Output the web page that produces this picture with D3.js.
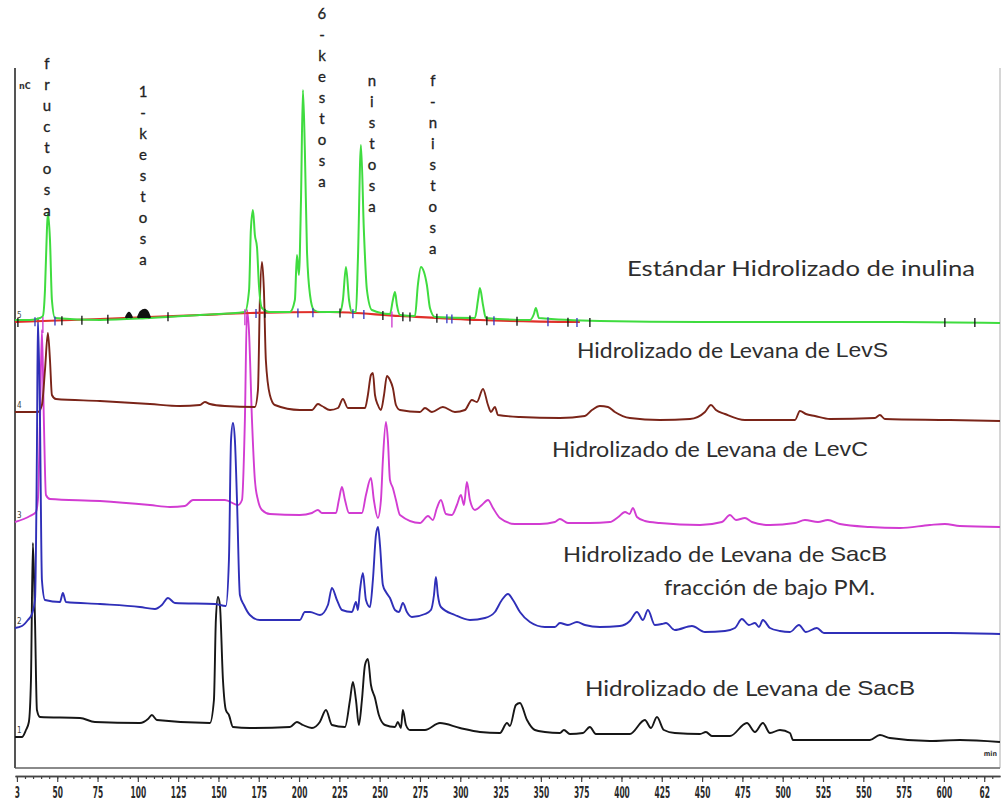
<!DOCTYPE html>
<html>
<head>
<meta charset="utf-8">
<script src="https://cdn.jsdelivr.net/npm/d3@7"></script>
<style>
  html, body { margin: 0; background: #fff; }
  svg { display: block; }
</style>
</head>
<body>
<svg id="chart" width="1002" height="803"></svg>
<script>
// Retention time (axis units) and detector signal for each chromatogram, signal relative to its own baseline.
const estandar = [[23.8,2],[33.1,2],[39.3,4],[41.1,6],[42.4,32],[43.6,92],[44.2,109],[45.5,82],[46.7,22],[48.6,4],
  [76.5,2],[107.5,4],[138.5,7],[166.4,10],[169.0,32],[170.1,92],[171.4,112],[172.6,87],[173.9,75],[175.1,37],[177.0,14],
  [181.9,10],[194.3,10],[197.4,22],[198.7,67],[199.9,47],[201.2,122],[202.4,232],[203.6,172],[204.9,72],[206.8,27],[209.2,12],
  [213.0,10],[225.4,10],[227.2,22],[229.1,55],[231.0,22],[232.8,10],[235.3,10],[236.5,62],[238.4,177],[240.2,92],[242.1,32],
  [245.2,12],[256.4,8],[258.2,22],[259.5,30],[260.7,17],[262.6,7],[271.9,6],[273.7,37],[275.6,55],[277.5,50],[279.3,37],
  [281.2,14],[284.3,5],[309.1,4],[311.0,22],[312.2,34],[314.1,17],[315.9,4],[343.2,2],[345.7,8],[346.9,14],[348.8,4],
  [386.6,1],[448.7,0],[510.7,0],[572.7,0],[634.8,-1]];

const deriva = [[23.8,0],[76.5,3],[138.5,7],[169.5,9],[219.2,10],[262.6,6],[312.2,2],[374.2,0]];

const levS = [[23.8,0],[38.0,0],[40.5,7],[42.4,42],[44.2,79],[45.5,52],[46.7,17],[49.2,13],[76.5,11],[107.5,8],[126.1,6],
  [138.5,7],[141.6,10],[144.7,8],[154.0,6],[172.6,5],[174.5,22],[175.7,112],[177.0,150],[178.2,122],[179.4,52],[181.9,17],
  [185.0,7],[200.5,2],[208.0,2],[211.7,8],[214.2,6],[219.2,2],[224.1,4],[227.2,13],[230.3,4],[240.9,4],[242.7,17],[244.6,37],
  [245.8,39],[247.1,17],[248.9,7],[250.8,2],[252.7,17],[254.5,36],[256.4,32],[258.2,24],[260.1,7],[262.6,2],[275.0,0],
  [278.1,4],[282.4,0],[289.2,5],[296.7,0],[302.9,2],[307.2,12],[310.3,10],[314.1,23],[317.2,7],[319.0,0],[321.5,5],
  [323.4,-3],[337.0,-5],[361.8,-6],[377.3,-4],[381.7,2],[386.6,6],[391.6,5],[395.9,0],[405.2,-6],[423.8,-8],[442.5,-7],
  [451.8,0],[455.5,7],[458.6,2],[464.2,-2],[476.6,-8],[507.6,-8],[510.7,1],[514.4,-2],[520.0,-4],[529.3,-7],[557.2,-6],
  [560.3,-3],[563.4,-7],[603.7,-8],[634.8,-9]];

const levC = [[23.8,0],[33.1,6],[36.8,10],[38.0,22],[39.3,102],[40.5,192],[41.7,102],[43.0,27],[45.5,23],[76.5,21],
  [107.5,17],[119.9,15],[129.2,16],[134.2,22],[141.6,22],[154.0,22],[162.1,17],[164.6,22],[166.4,102],[167.7,212],
  [168.9,192],[170.8,102],[172.6,42],[174.5,22],[177.0,12],[181.9,8],[200.5,7],[208.0,9],[211.7,12],[214.2,9],[222.9,9],
  [224.7,22],[226.6,35],[228.5,22],[231.0,9],[239.0,9],[241.5,27],[244.6,44],[246.4,22],[248.9,4],[250.8,22],[252.0,62],
  [253.9,100],[255.1,82],[256.4,42],[258.2,34],[260.1,22],[262.6,7],[275.0,-1],[280.0,6],[283.0,2],[285.5,14],[288.0,22],
  [291.1,8],[294.8,7],[297.9,17],[300.4,27],[302.3,17],[304.1,40],[306.0,22],[309.1,12],[313.4,17],[317.2,22],[320.3,14],
  [324.6,4],[333.9,-2],[349.4,-2],[358.7,0],[361.8,3],[366.8,-1],[380.4,-1],[392.8,0],[398.0,5],[402.2,10],[405.0,8],
  [407.1,14],[409.6,5],[414.5,1],[423.8,-1],[448.7,-3],[462.3,0],[467.3,7],[471.0,2],[476.6,4],[480.9,0],[492.1,-3],
  [507.6,-1],[513.8,2],[521.9,0],[528.0,2],[535.5,-2],[554.1,-5],[572.7,-6],[591.3,-3],[600.6,-2],[609.9,-4],[634.8,-5]];

const sacBBajoPM = [[23.8,0],[28.1,2],[31.8,8],[34.3,14],[36.2,28],[37.4,178],[38.0,310],[39.3,208],[40.5,48],[42.4,28],
  [51.7,26],[53.5,35],[55.4,26],[76.5,24],[101.3,21],[110.6,19],[114.9,23],[118.7,30],[123.0,25],[147.8,24],[154.6,22],
  [156.5,68],[157.8,188],[159.0,205],[160.2,188],[161.5,128],[163.3,33],[165.8,23],[169.5,13],[175.7,8],[194.3,8],[200.5,8],
  [203.6,16],[206.8,16],[213.0,13],[217.9,23],[220.4,40],[223.5,28],[226.6,18],[232.8,16],[235.3,26],[236.5,18],[237.8,38],
  [239.6,55],[241.5,28],[244.0,21],[245.8,48],[247.7,93],[249.0,101],[250.2,83],[252.0,43],[253.9,36],[256.4,30],[259.5,18],
  [262.0,16],[264.4,25],[266.9,16],[270.0,11],[278.1,14],[281.8,18],[283.7,33],[284.9,51],[286.1,33],[288.0,21],[296.7,13],
  [306.0,8],[315.3,10],[321.5,16],[325.8,28],[329.6,34],[332.7,28],[337.0,16],[343.2,6],[352.5,1],[358.7,1],[361.8,5],
  [366.8,3],[372.4,6],[377.3,3],[386.6,1],[399.0,2],[405.2,7],[409.6,16],[413.3,8],[416.4,18],[420.7,3],[425.1,4],[427.6,5],
  [433.1,-2],[443.7,2],[451.8,-4],[464.2,-3],[470.4,0],[474.7,9],[479.1,3],[482.8,5],[485.3,1],[487.7,8],[492.1,0],
  [498.3,-3],[504.5,-4],[510.1,3],[514.4,-4],[521.2,0],[525.6,-5],[572.7,-5],[603.7,-5],[634.8,-6]];

const sacB = [[23.8,0],[28.1,0],[30.6,7],[32.4,15],[33.7,57],[34.9,194],[36.2,117],[37.4,27],[39.3,20],[64.1,19],[73.4,15],
  [101.3,14],[106.3,18],[108.7,22],[111.8,17],[144.7,14],[147.2,37],[148.4,117],[149.7,140],[150.9,132],[152.8,57],
  [154.6,27],[156.5,22],[159.0,10],[169.5,9],[194.3,10],[198.7,15],[202.4,12],[208.0,9],[212.9,15],[216.7,27],[220.4,12],
  [228.5,10],[231.6,37],[233.4,55],[235.3,37],[237.1,12],[239.0,37],[240.9,72],[242.7,78],[244.6,52],[247.1,39],[249.5,22],
  [253.3,12],[259.5,10],[261.3,15],[263.2,9],[264.4,27],[266.3,12],[268.8,7],[278.1,7],[287.4,14],[299.8,9],[312.2,5],
  [324.6,4],[329.0,14],[330.8,11],[334.5,32],[337.0,34],[341.4,17],[346.3,7],[352.5,5],[361.8,4],[364.3,7],[368.0,3],
  [376.1,4],[380.4,10],[384.1,3],[405.2,3],[414.5,17],[418.3,9],[422.0,20],[426.3,7],[433.1,4],[448.7,3],[452.4,5],
  [456.1,1],[467.3,1],[477.8,14],[482.8,5],[487.7,14],[492.1,4],[498.3,7],[504.5,4],[506.4,-3],[554.1,-3],[560.3,2],
  [566.5,-1],[591.3,-4],[609.9,-3],[634.8,-5]];

// Small integration deposits drawn on the standard trace near 1-kestosa.
const manchas = [[[92.6,4],[94.5,9],[96.3,4]], [[100.1,4],[101.9,10],[104.4,12],[106.3,9],[107.5,4]]];

// Peak integration marks on the standard trace: retention time and colour.
const marcaTiempos = [25.6,36.2,41.1,48.6,52.9,65.3,81.4,118.7,166.4,173.3,178.8,199.3,208.6,225.4,233.4,240.2,252.0,
  257.6,264.4,268.8,285.5,291.7,294.8,306.0,316.5,320.9,335.2,354.4,366.8,372.4,380.4,600.6,619.2];
const marcaColores = ["#111","#3535c0","#cc33cc","#3535c0","#111","#111","#111","#111","#cc33cc","#3535c0","#111",
  "#3535c0","#3535c0","#111","#3535c0","#3535c0","#111","#cc33cc","#111","#111","#111","#3535c0","#3535c0","#111","#111",
  "#3535c0","#111","#3535c0","#111","#3535c0","#111","#111","#111"];

// Peak names written vertically above the standard.
const picoNombres = ["fructosa", "1-kestosa", "6-kestosa", "nistosa", "f-nistosa"];
const picoTiempos = [43.6, 103.2, 214.2, 245.2, 283.0];

// Trace names.
const muestraTextos = ["Estándar Hidrolizado de inulina", "Hidrolizado de Levana de ", "Hidrolizado de Levana de  ",
  "Hidrolizado de Levana de  ", "Hidrolizado de Levana de  "];
const muestraEnzimas = ["", "LevS", "LevC", "SacB", "SacB"];
const muestraNotas = ["", "", "", "fracción de bajo PM.", ""];
const canales = ["5", "4", "3", "2", "1"];

// Axis ticks.
const ticksMayores = d3.range(25, 626, 25);
const ticksEtiquetas = ["3","50","75","100","125","150","175","200","225","250","275","300","325","350","375","400",
  "425","450","475","500","525","550","575","600","62"];

// ---------- layout ----------
const svg = d3.select("#chart");
const x = d3.scaleLinear().domain([23.8, 634.8]).range([15, 1000]);
const y = d3.scaleLinear().domain([0, 700]).range([768, 68]);

const offsets = [446, 356, 246, 140, 31];   // vertical stacking of the five chromatograms
const colores = ["#3fdc3f", "#7a2418", "#d23cd2", "#2f2fb8", "#161616"];
const series = [estandar, levS, levC, sacBBajoPM, sacB];

// frame
svg.append("line").attr("x1", 1000).attr("x2", 1000).attr("y1", 68).attr("y2", 768)
  .attr("stroke", "#c8c8c8").attr("stroke-width", 1.5);
svg.append("line").attr("x1", 15).attr("x2", 1000).attr("y1", 768).attr("y2", 768)
  .attr("stroke", "#8a8a8a").attr("stroke-width", 2);
svg.append("line").attr("x1", 15).attr("x2", 15).attr("y1", 68).attr("y2", 768)
  .attr("stroke", "#555").attr("stroke-width", 2);

svg.append("text").attr("x", 19).attr("y", 89).text("nC")
  .attr("font-family", "DejaVu Sans Condensed").attr("font-weight", "bold").attr("font-size", 9).attr("fill", "#333");
svg.append("text").attr("x", 997).attr("y", 756).attr("text-anchor", "end").text("min")
  .attr("font-family", "DejaVu Sans Condensed").attr("font-weight", "bold").attr("font-size", 7).attr("fill", "#333");

// bottom time ruler
const eje = svg.append("g").attr("transform", "translate(0,776)");
eje.call(d3.axisBottom(x).tickValues(d3.range(25, 631, 5)).tickSize(3).tickSizeOuter(0).tickFormat(""));
const ejeMayor = svg.append("g").attr("transform", "translate(0,776)")
  .call(d3.axisBottom(x).tickValues(ticksMayores).tickSize(6).tickSizeOuter(0).tickPadding(5)
    .tickFormat((d, i) => ticksEtiquetas[i]));
svg.selectAll(".domain").attr("stroke", "#444").attr("stroke-width", 1.6);
svg.selectAll(".tick line").attr("stroke", "#444").attr("stroke-width", 1.2);
ejeMayor.selectAll(".tick text")
  .attr("font-family", "DejaVu Sans Condensed").attr("font-weight", "bold").attr("font-size", 15)
  .attr("fill", "#2a2a2a")
  .attr("textLength", function () { return this.textContent.length * 5.2; })
  .attr("lengthAdjust", "spacingAndGlyphs");

// chromatograms, bottom first
const linea = off => d3.line().x(d => x(d[0])).y(d => y(d[1] + off)).curve(d3.curveMonotoneX);
const orden = [4, 2, 1, 3];
orden.forEach(i => {
  svg.append("path").datum(series[i]).attr("d", linea(offsets[i]))
    .attr("fill", "none").attr("stroke", colores[i]).attr("stroke-width", 1.9).attr("stroke-linejoin", "round");
});

// drift reference under the standard
svg.append("path").datum(deriva).attr("d", linea(offsets[0]))
  .attr("fill", "none").attr("stroke", "#e0302a").attr("stroke-width", 2.2);

svg.append("path").datum(estandar).attr("d", linea(offsets[0]))
  .attr("fill", "none").attr("stroke", colores[0]).attr("stroke-width", 2).attr("stroke-linejoin", "round");

manchas.forEach(m => {
  svg.append("path").datum(m).attr("d", linea(offsets[0]))
    .attr("fill", "#111").attr("stroke", "#111").attr("stroke-width", 2.5);
});

// integration marks sit on the drift reference
const derivaEn = t => {
  if (t >= deriva[deriva.length - 1][0]) return deriva[deriva.length - 1][1];
  const i = d3.bisector(d => d[0]).right(deriva, t);
  const a = deriva[Math.max(0, i - 1)], b = deriva[Math.min(deriva.length - 1, i)];
  return a[0] === b[0] ? a[1] : a[1] + (b[1] - a[1]) * (t - a[0]) / (b[0] - a[0]);
};
svg.append("g").selectAll("line").data(marcaTiempos).join("line")
  .attr("x1", d => x(d)).attr("x2", d => x(d))
  .attr("y1", d => y(derivaEn(d) + offsets[0]) - 4)
  .attr("y2", (d, i) => y(derivaEn(d) + offsets[0]) + (marcaColores[i] === "#cc33cc" ? 12 : 5))
  .attr("stroke", (d, i) => marcaColores[i]).attr("stroke-width", 1.3);

// channel numbers at the start of each trace
svg.append("g").selectAll("text").data(canales).join("text")
  .attr("x", 17).attr("y", (d, i) => y(offsets[i]) - 4)
  .text(d => d)
  .attr("font-family", "DejaVu Sans Condensed").attr("font-size", 8).attr("fill", "#444");

// vertical peak names
const picos = svg.append("g");
const picoArriba = [65, 93, 15, 82, 82];
picoNombres.forEach((nombre, k) => {
  picos.selectAll(null).data(nombre.split("")).join("text")
    .attr("x", x(picoTiempos[k])).attr("y", (c, j) => picoArriba[k] + j * 21)
    .attr("text-anchor", "middle").attr("dominant-baseline", "middle")
    .attr("font-family", "Lato").attr("font-size", 15).attr("fill", "#222")
    .attr("stroke", "#222").attr("stroke-width", 0.3)
    .text(c => c);
});

// trace names
const rotulos = [
  { x: 627, y: 276, w: 348 },
  { x: 577, y: 358, w: 311 },
  { x: 552, y: 457, w: 316 },
  { x: 563, y: 562, w: 324 },
  { x: 585, y: 696, w: 330 }
];
rotulos.forEach((r, i) => {
  const t = svg.append("text").attr("x", r.x).attr("y", r.y)
    .attr("font-family", "Lato").attr("font-size", 21).attr("fill", "#2e2e2e")
    .attr("textLength", r.w).attr("lengthAdjust", "spacingAndGlyphs");
  t.append("tspan").text(muestraTextos[i]);
  if (muestraEnzimas[i]) {
    t.append("tspan").attr("font-family", "Liberation Sans").attr("font-size", 21).attr("dy", -1)
      .text(muestraEnzimas[i]);
  }
});
svg.append("text").attr("x", 664).attr("y", 595).text(muestraNotas[3])
  .attr("font-family", "Lato").attr("font-size", 21).attr("fill", "#2e2e2e")
  .attr("textLength", 211).attr("lengthAdjust", "spacingAndGlyphs");
</script>
</body>
</html>
